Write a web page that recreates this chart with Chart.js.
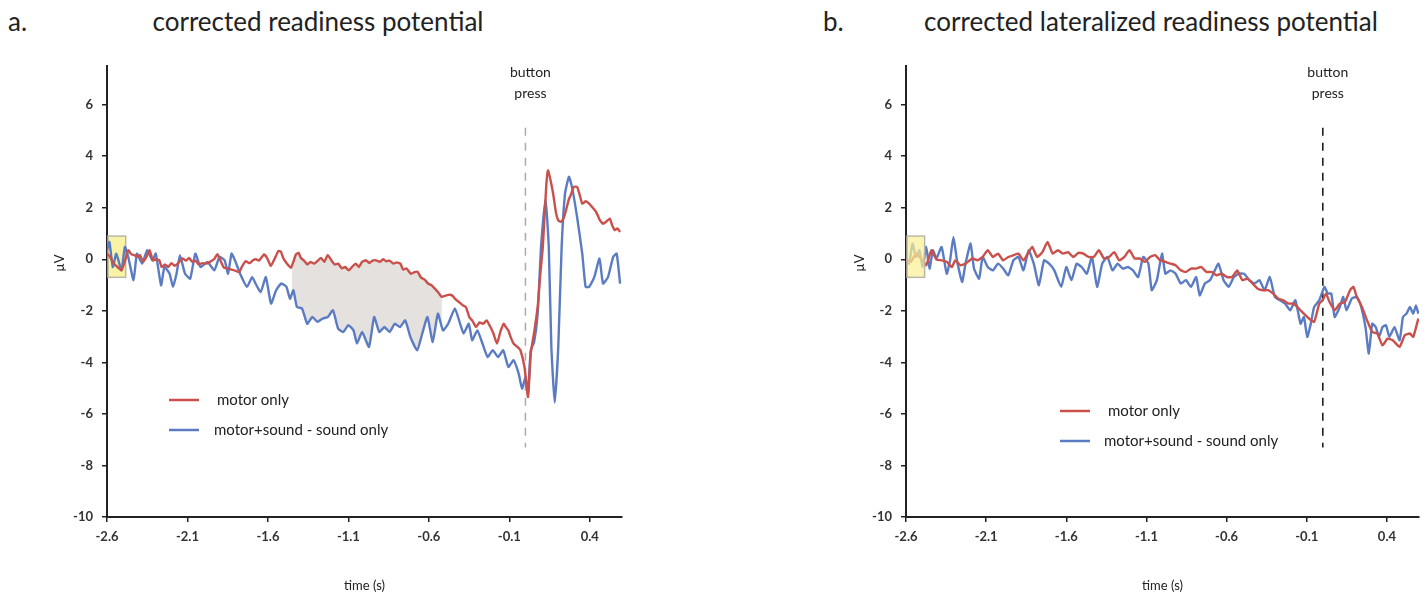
<!DOCTYPE html>
<html lang="en">
<head>
<meta charset="UTF-8">
<title>Corrected readiness potentials</title>
<script src="https://cdn.jsdelivr.net/npm/chart.js"></script>
<style>
  body { margin: 0; background: #fff; font-family: Lato, sans-serif; color: #222; }
  .page { position: relative; width: 1427px; height: 597px; overflow: hidden; }
  .head { position: absolute; top: 8px; font-size: 26px; line-height: 26px; white-space: nowrap; }
  .centered { transform: translateX(-50%); }
  .panel { position: absolute; top: 0; }
</style>
</head>
<body>
<div class="page">
  <div class="head" style="left:8px">a.</div>
  <div class="head centered" style="left:318px">corrected readiness potential</div>
  <div class="head" style="left:823px">b.</div>
  <div class="head centered" style="left:1151px">corrected lateralized readiness potential</div>
  <div class="panel" style="left:0"><canvas id="rpChart" width="640" height="597"></canvas></div>
  <div class="panel" style="left:800px"><canvas id="lrpChart" width="627" height="597"></canvas></div>
</div>

<script>
// axis ticks
const ticksX = [-2.6, -2.1, -1.6, -1.1, -0.6, -0.1, 0.4];
const ticksY = [-10, -8, -6, -4, -2, 0, 2, 4, 6];
const labels = ['motor only', 'motor+sound - sound only'];

// a. corrected readiness potential - motor only
const rpMotorTime = [-2.600,-2.581,-2.560,-2.535,-2.510,-2.490,-2.468,-2.450,-2.430,-2.410,
  -2.395,-2.375,-2.355,-2.335,-2.315,-2.295,-2.275,-2.260,-2.240,-2.220,
  -2.200,-2.180,-2.160,-2.132,-2.110,-2.090,-2.070,-2.050,-2.030,-2.010,
  -1.983,-1.960,-1.935,-1.914,-1.895,-1.873,-1.850,-1.825,-1.800,-1.780,
  -1.759,-1.738,-1.715,-1.695,-1.675,-1.655,-1.624,-1.605,-1.582,-1.560,
  -1.535,-1.520,-1.505,-1.490,-1.457,-1.426,-1.410,-1.395,-1.378,-1.355,
  -1.335,-1.313,-1.290,-1.270,-1.250,-1.228,-1.205,-1.185,-1.164,-1.140,
  -1.120,-1.098,-1.078,-1.055,-1.035,-1.015,-0.991,-0.970,-0.950,-0.927,
  -0.905,-0.884,-0.865,-0.845,-0.820,-0.800,-0.777,-0.760,-0.740,-0.712,
  -0.690,-0.670,-0.650,-0.625,-0.605,-0.585,-0.563,-0.540,-0.520,-0.500,
  -0.478,-0.456,-0.435,-0.413,-0.390,-0.370,-0.349,-0.328,-0.306,-0.285,
  -0.263,-0.241,-0.220,-0.199,-0.177,-0.155,-0.135,-0.120,-0.106,-0.090,
  -0.074,-0.050,-0.031,-0.006,0.016,0.033,0.055,0.076,0.092,0.108,
  0.129,0.140,0.155,0.172,0.190,0.204,0.220,0.236,0.252,0.268,
  0.285,0.300,0.321,0.337,0.353,0.375,0.396,0.418,0.439,0.460,
  0.482,0.500,0.524,0.540,0.556,0.572,0.588];
const rpMotor = [0.22,0.09,-0.15,-0.30,-0.43,-0.10,0.35,0.20,0.16,0.10,
  0.16,-0.10,0.09,0.35,-0.05,0.00,-0.04,-0.30,-0.20,-0.30,
  -0.15,-0.25,-0.17,0.03,-0.05,0.05,-0.10,-0.05,-0.20,-0.15,
  -0.17,-0.10,0.00,0.20,-0.05,-0.33,-0.36,-0.40,-0.45,-0.50,
  -0.26,-0.07,-0.15,-0.05,0.00,-0.05,0.19,0.05,-0.26,0.00,
  0.32,0.30,0.05,-0.10,-0.33,0.19,0.25,0.05,-0.04,-0.20,
  -0.10,-0.17,-0.05,0.05,-0.10,0.16,-0.05,-0.20,-0.17,-0.35,
  -0.30,-0.43,-0.30,-0.17,-0.30,-0.10,-0.04,-0.15,-0.05,-0.04,
  -0.10,0.00,-0.08,-0.05,-0.17,-0.12,-0.17,-0.40,-0.35,-0.56,
  -0.50,-0.49,-0.70,-0.80,-0.94,-1.00,-1.14,-1.30,-1.46,-1.42,
  -1.38,-1.40,-1.55,-1.66,-1.78,-1.85,-2.24,-2.40,-2.63,-2.45,
  -2.50,-2.37,-2.60,-2.88,-3.27,-2.80,-2.50,-2.65,-2.76,-3.05,
  -3.27,-3.40,-3.53,-4.18,-5.34,-3.66,-2.80,-1.85,-0.60,0.48,
  2.81,3.45,3.10,2.55,1.80,1.51,1.45,1.58,1.90,2.29,
  2.55,2.81,2.81,2.50,2.16,2.25,2.16,2.00,1.84,1.55,
  1.38,1.45,1.58,1.30,1.13,1.20,1.06];

// a. motor+sound - sound only
const rpDiffTime = [-2.600,-2.585,-2.564,-2.542,-2.510,-2.489,-2.468,-2.435,-2.414,-2.382,
  -2.350,-2.318,-2.297,-2.264,-2.243,-2.211,-2.190,-2.168,-2.147,-2.115,
  -2.083,-2.051,-2.019,-1.976,-1.933,-1.901,-1.869,-1.848,-1.826,-1.805,
  -1.773,-1.730,-1.698,-1.677,-1.645,-1.613,-1.581,-1.549,-1.517,-1.485,
  -1.463,-1.442,-1.420,-1.388,-1.356,-1.324,-1.292,-1.260,-1.228,-1.196,
  -1.164,-1.132,-1.100,-1.068,-1.047,-1.015,-0.972,-0.940,-0.908,-0.876,
  -0.844,-0.812,-0.779,-0.747,-0.715,-0.673,-0.641,-0.609,-0.576,-0.544,
  -0.512,-0.480,-0.438,-0.406,-0.384,-0.352,-0.331,-0.299,-0.267,-0.235,
  -0.203,-0.170,-0.138,-0.106,-0.074,-0.042,-0.021,0.001,0.016,0.033,
  0.054,0.076,0.097,0.125,0.145,0.161,0.182,0.204,0.225,0.246,
  0.270,0.289,0.321,0.353,0.374,0.396,0.428,0.460,0.482,0.513,
  0.545,0.567,0.588];
const rpDiff = [0.35,0.67,-0.30,0.22,-0.43,0.48,0.09,-0.81,0.22,-0.17,
  0.35,-0.04,0.22,-1.01,-0.30,-0.56,-1.07,-0.56,0.16,-0.56,
  -0.75,0.22,-0.30,-0.10,-0.43,0.09,-0.04,-0.56,0.22,-0.04,
  -0.56,-1.07,-0.69,-0.94,-1.27,-0.69,-1.72,-1.20,-0.94,-1.07,
  -1.53,-1.20,-1.85,-1.91,-2.50,-2.24,-2.43,-2.30,-2.24,-1.98,
  -2.69,-2.82,-2.56,-2.76,-3.27,-2.82,-3.40,-2.24,-2.82,-2.63,
  -2.82,-2.50,-2.63,-2.37,-3.01,-3.53,-2.88,-2.24,-3.21,-2.11,
  -2.76,-2.50,-1.91,-2.50,-2.88,-2.50,-3.14,-2.76,-3.27,-3.79,
  -3.53,-3.79,-3.53,-4.18,-3.92,-4.44,-5.02,-4.57,-5.21,-3.53,
  -3.21,-2.11,0.48,2.33,0.48,-3.40,-5.56,-3.40,0.48,2.55,
  3.20,2.81,1.64,0.22,-1.07,-1.07,-0.69,0.03,-0.94,-0.69,
  0.09,0.22,-0.94];

// b. corrected lateralized readiness potential - motor only
const lrpMotorTime = [-2.600,-2.570,-2.538,-2.506,-2.474,-2.442,-2.410,-2.378,-2.346,-2.314,
  -2.293,-2.261,-2.229,-2.186,-2.154,-2.122,-2.090,-2.058,-2.026,-1.994,
  -1.962,-1.930,-1.899,-1.867,-1.835,-1.813,-1.781,-1.749,-1.717,-1.685,
  -1.653,-1.621,-1.589,-1.557,-1.525,-1.493,-1.461,-1.429,-1.397,-1.365,
  -1.333,-1.301,-1.270,-1.238,-1.206,-1.174,-1.142,-1.110,-1.078,-1.046,
  -1.014,-0.982,-0.950,-0.918,-0.886,-0.854,-0.822,-0.790,-0.758,-0.726,
  -0.694,-0.662,-0.630,-0.598,-0.566,-0.534,-0.502,-0.470,-0.438,-0.406,
  -0.374,-0.342,-0.310,-0.278,-0.246,-0.214,-0.182,-0.150,-0.118,-0.086,
  -0.054,-0.022,-0.001,0.020,0.042,0.074,0.106,0.138,0.170,0.191,
  0.212,0.244,0.276,0.308,0.340,0.372,0.404,0.436,0.479,0.511,
  0.543,0.564,0.596];
const lrpMotor = [-0.04,-0.10,0.22,0.03,-0.23,0.35,-0.01,-0.04,-0.10,-0.30,
  -0.04,-0.23,-0.17,0.03,-0.04,0.09,0.35,0.09,0.22,-0.04,
  0.09,0.16,0.22,-0.04,0.28,0.48,0.09,0.28,0.67,0.22,
  0.35,0.22,0.28,0.09,0.25,0.22,0.09,0.09,0.35,0.03,
  0.09,0.28,-0.04,0.09,0.35,0.03,0.03,-0.10,0.09,0.16,
  -0.04,-0.10,-0.17,-0.23,-0.43,-0.49,-0.36,-0.36,-0.30,-0.49,
  -0.49,-0.62,-0.56,-0.69,-0.69,-0.43,-0.81,-0.75,-0.94,-1.14,
  -1.20,-1.20,-1.33,-1.53,-1.59,-1.72,-1.72,-1.91,-2.11,-2.30,
  -2.43,-1.72,-1.59,-1.33,-1.66,-1.98,-1.72,-1.66,-1.20,-1.07,
  -1.46,-1.85,-2.37,-2.82,-2.88,-3.34,-3.08,-3.14,-3.40,-2.95,
  -2.88,-3.01,-2.30];

// b. motor+sound - sound only
const lrpDiffTime = [-2.600,-2.581,-2.559,-2.538,-2.517,-2.496,-2.474,-2.453,-2.432,-2.410,
  -2.378,-2.346,-2.325,-2.304,-2.282,-2.250,-2.229,-2.197,-2.176,-2.144,
  -2.122,-2.090,-2.058,-2.026,-1.994,-1.962,-1.930,-1.899,-1.867,-1.835,
  -1.803,-1.771,-1.739,-1.707,-1.675,-1.632,-1.600,-1.568,-1.536,-1.504,
  -1.472,-1.440,-1.408,-1.376,-1.344,-1.312,-1.280,-1.248,-1.216,-1.184,
  -1.152,-1.120,-1.088,-1.067,-1.035,-1.003,-0.982,-0.950,-0.918,-0.886,
  -0.854,-0.822,-0.790,-0.768,-0.736,-0.704,-0.683,-0.651,-0.619,-0.587,
  -0.555,-0.523,-0.491,-0.459,-0.427,-0.395,-0.363,-0.331,-0.299,-0.267,
  -0.235,-0.203,-0.171,-0.139,-0.118,-0.097,-0.075,-0.054,-0.022,0.010,
  0.031,0.053,0.074,0.106,0.127,0.148,0.180,0.212,0.234,0.266,
  0.287,0.308,0.330,0.351,0.372,0.394,0.415,0.447,0.479,0.500,
  0.522,0.543,0.564,0.581,0.596];
const lrpDiff = [-0.04,-0.17,0.61,0.09,0.35,-0.30,0.48,-0.36,0.35,0.03,
  0.48,-0.56,-0.04,0.87,-0.04,-0.88,-0.17,0.61,-0.36,-0.75,
  0.09,-0.30,-0.43,-0.17,-0.36,-0.62,-0.04,0.09,-0.43,0.35,
  -0.17,-1.01,-0.04,-0.17,-0.43,-1.07,-0.30,-0.81,-0.17,-0.30,
  -0.56,0.09,-1.07,-0.17,0.09,-0.43,-0.17,-0.36,-0.30,-0.43,
  -0.69,0.09,-0.17,-1.20,-0.81,0.22,-0.56,-0.43,-0.56,-0.94,
  -0.81,-1.07,-0.69,-1.40,-0.94,-0.81,-0.56,-0.17,-0.81,-1.07,
  -0.69,-0.56,-0.56,-0.81,-0.94,-0.81,-1.20,-0.69,-1.46,-1.59,
  -1.72,-1.98,-1.59,-2.50,-2.24,-3.01,-2.50,-1.85,-1.59,-1.07,
  -1.33,-1.33,-2.24,-1.85,-1.46,-1.98,-1.53,-1.46,-1.72,-2.63,
  -3.66,-2.50,-2.63,-3.01,-2.63,-2.56,-3.01,-2.63,-3.14,-2.24,
  -2.11,-1.85,-2.11,-1.79,-2.11];

// marked windows (s / µV)
const baselineWin = [-2.6, -2.49];
const baselineRange = [-0.7, 0.9];
const diffWin = [-1.45, -0.52];
const buttonPress = 0.0;
const pressLine = [5.1, -7.3];

const RED = '#c9504b';
const BLUE = '#5b7cc2';

function pts(t, v) { return t.map((x, i) => ({ x: x, y: v[i] })); }

function decorPlugin(cfg) {
  function drawBox(chart) {
    const { ctx, scales: { x, y } } = chart;
    const x0 = x.getPixelForValue(baselineWin[0]), x1 = x.getPixelForValue(baselineWin[1]);
    const y0 = y.getPixelForValue(baselineRange[1]), y1 = y.getPixelForValue(baselineRange[0]);
    ctx.save();
    ctx.fillStyle = cfg.boxFill;
    ctx.fillRect(x0 + 1, y0, x1 - x0, y1 - y0);
    ctx.strokeStyle = '#b9b8a8';
    ctx.lineWidth = 1.5;
    ctx.strokeRect(x0 + 1, y0, x1 - x0, y1 - y0);
    ctx.restore();
  }
  return {
    id: 'decor',
    beforeDatasetsDraw(chart) {
      const { ctx, chartArea, scales: { x, y } } = chart;
      if (cfg.shade) {
        const a = chart.getDatasetMeta(0).data, b = chart.getDatasetMeta(1).data;
        const x0 = x.getPixelForValue(diffWin[0]), x1 = x.getPixelForValue(diffWin[1]);
        ctx.save();
        ctx.beginPath();
        ctx.rect(x0, chartArea.top, x1 - x0, chartArea.height);
        ctx.clip();
        ctx.beginPath();
        a.forEach((p, i) => i ? ctx.lineTo(p.x, p.y) : ctx.moveTo(p.x, p.y));
        for (let i = b.length - 1; i >= 0; i--) ctx.lineTo(b[i].x, b[i].y);
        ctx.closePath();
        ctx.fillStyle = '#e5e1df';
        ctx.fill();
        ctx.restore();
      }
      // button press marker
      const px = x.getPixelForValue(buttonPress);
      ctx.save();
      ctx.strokeStyle = cfg.dashColor;
      ctx.lineWidth = 1.5;
      ctx.setLineDash([8, 7]);
      ctx.beginPath();
      ctx.moveTo(px, y.getPixelForValue(pressLine[0]));
      ctx.lineTo(px, y.getPixelForValue(pressLine[1]));
      ctx.stroke();
      ctx.restore();
      if (!cfg.boxOnTop) drawBox(chart);
    },
    afterDatasetsDraw(chart) {
      const { ctx, chartArea, scales: { x, y } } = chart;
      if (cfg.boxOnTop) drawBox(chart);
      ctx.save();
      ctx.fillStyle = '#222';
      ctx.font = '14px Lato';
      ctx.textAlign = 'center';
      ctx.textBaseline = 'middle';
      const px = x.getPixelForValue(buttonPress) + 5;
      ctx.fillText('button', px, 72);
      ctx.fillText('press', px, 93);
      // legend
      const L = chartArea.left;
      [[RED, cfg.legY[0], cfg.legText[0]], [BLUE, cfg.legY[1], cfg.legText[1]]].forEach(([c, ly, tx], i) => {
        ctx.strokeStyle = c;
        ctx.lineWidth = 2.5;
        ctx.beginPath();
        ctx.moveTo(L + cfg.legX[0], ly);
        ctx.lineTo(L + cfg.legX[1], ly);
        ctx.stroke();
        ctx.fillStyle = '#222';
        ctx.font = '15px Lato';
        ctx.textAlign = 'left';
        ctx.fillText(labels[i], L + tx, ly);
      });
      // y axis title
      ctx.translate(60, y.getPixelForValue(-0.15));
      ctx.rotate(-Math.PI / 2);
      ctx.font = '13px Lato';
      ctx.textAlign = 'center';
      ctx.fillText('\u00b5V', 0, 0);
      ctx.restore();
    }
  };
}

function makeChart(id, motorT, motorV, diffT, diffV, pad, cfg) {
  const tickFont = { family: 'Lato', size: 13, weight: 'bold' };
  new Chart(document.getElementById(id), {
    type: 'line',
    data: {
      datasets: [
        { label: labels[0], data: pts(motorT, motorV), borderColor: RED, borderWidth: 2.4, pointRadius: 0, tension: 0.15 },
        { label: labels[1], data: pts(diffT, diffV), borderColor: BLUE, borderWidth: 2.4, pointRadius: 0, tension: 0.15 }
      ]
    },
    options: {
      responsive: false,
      animation: false,
      layout: { padding: pad },
      plugins: { legend: { display: false }, tooltip: { enabled: false } },
      scales: {
        x: {
          type: 'linear', min: -2.6, max: 0.6,
          afterBuildTicks: s => { s.ticks = ticksX.map(v => ({ value: v })); },
          afterFit: s => { s.height = 80; },
          ticks: { color: '#333', font: tickFont, padding: 7, maxRotation: 0, callback: v => v.toFixed(1) },
          grid: { drawOnChartArea: false, tickLength: 5, color: '#222', lineWidth: 1.5 },
          border: { color: '#222', width: 2 },
          title: { display: true, text: 'time (s)', color: '#222', font: { family: 'Lato', size: 13 }, padding: { top: 4, bottom: 3 } }
        },
        y: {
          min: -10, max: 7.5,
          afterBuildTicks: s => { s.ticks = ticksY.map(v => ({ value: v })); },
          afterFit: s => { s.width = 62; },
          ticks: { color: '#333', font: tickFont, padding: 9 },
          grid: { drawOnChartArea: false, tickLength: 5, color: '#222', lineWidth: 1.5 },
          border: { color: '#222', width: 2 }
        }
      }
    },
    plugins: [decorPlugin(cfg)]
  });
}

makeChart('rpChart', rpMotorTime, rpMotor, rpDiffTime, rpDiff,
  { left: 45, right: 18, top: 66, bottom: 0 },
  { shade: true, dashColor: '#aaaaaa', boxFill: '#f9f3a6', boxOnTop: false,
    legX: [62, 92], legY: [400, 430], legText: [110, 107] });

makeChart('lrpChart', lrpMotorTime, lrpMotor, lrpDiffTime, lrpDiff,
  { left: 44, right: 8, top: 66, bottom: 0 },
  { shade: false, dashColor: '#111111', boxFill: 'rgba(249,240,150,0.72)', boxOnTop: true,
    legX: [154, 184], legY: [411, 441], legText: [202, 198] });
</script>
</body>
</html>
